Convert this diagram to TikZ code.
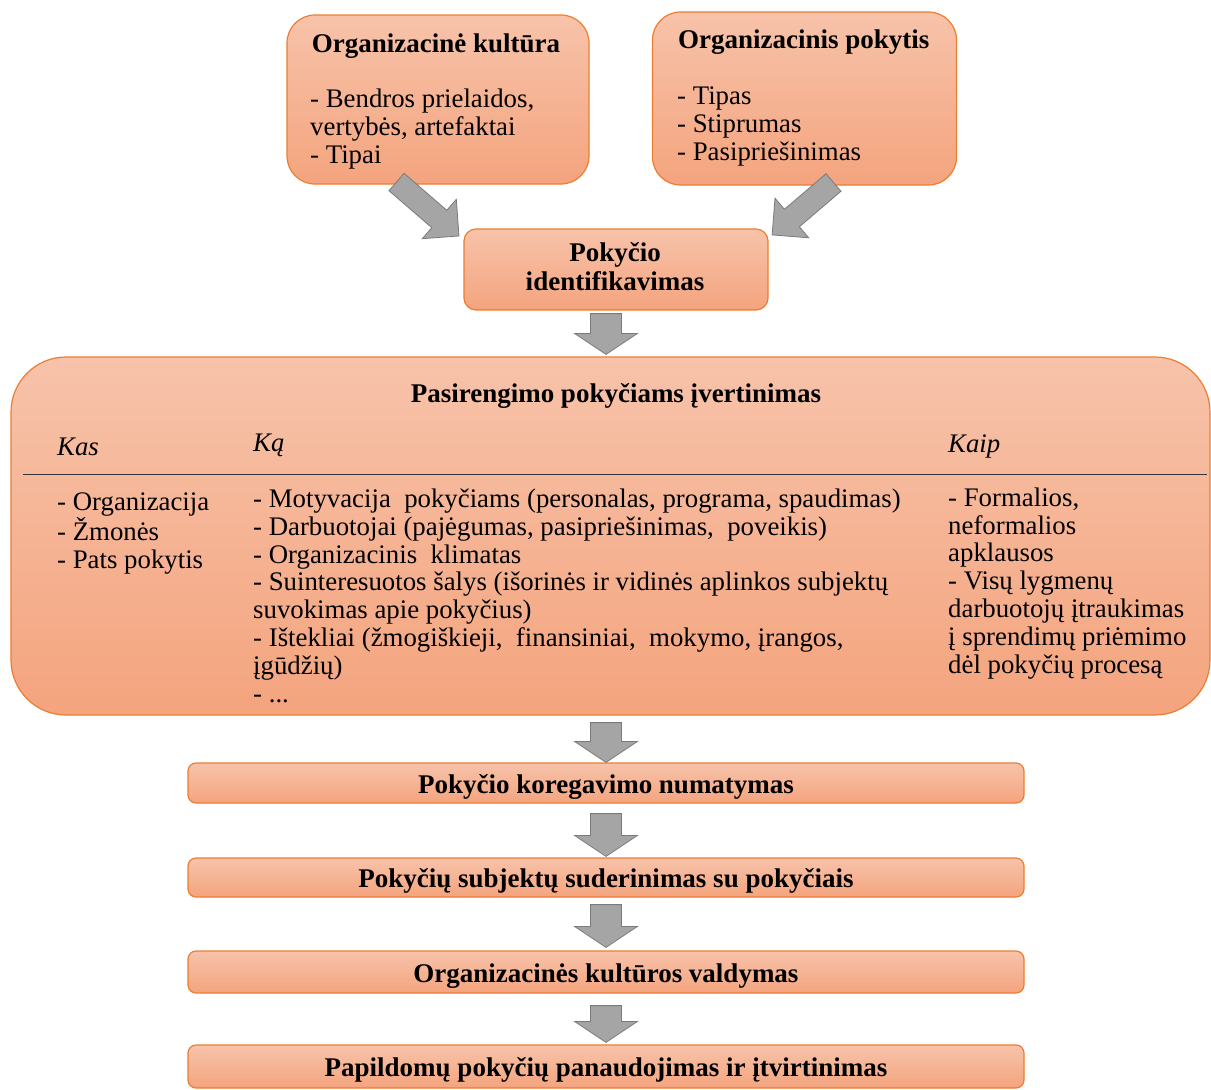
\documentclass[tikz,border=0pt]{standalone}
\usepackage{fontspec}
\setmainfont{Liberation Serif}
\usetikzlibrary{calc}

\definecolor{boxline}{HTML}{ED7D31}
\definecolor{boxtop}{HTML}{F7C3AA}
\definecolor{boxbot}{HTML}{F4A47E}
\definecolor{arrfill}{HTML}{A5A5A5}
\definecolor{arrline}{HTML}{7A7A7A}

\tikzset{
  box/.style={draw=boxline, line width=1.2pt, top color=boxtop, bottom color=boxbot,
              rounded corners=#1, inner sep=0pt},
  box/.default=8pt,
  txt/.style={inner sep=0pt, align=left, font=\fontsize{26.8}{27.8}\selectfont},
  head/.style={inner sep=0pt, align=left, font=\fontsize{27}{28.5}\selectfont\bfseries},
  rowbox/.style={box, head, minimum width=836pt, text height=24pt, text depth=4pt},
  blockarrow/.style={fill=arrfill, draw=arrline, line width=0.8pt, line join=miter},
}

% #1 from, #2 to, #3 half shaft, #4 half head, #5 head length
\newcommand{\fatarrow}[5]{%
  \path let \p1=($(#2)-(#1)$) in
    \pgfextra{\pgfmathparse{atan2(\y1,\x1)}\xdef\fatang{\pgfmathresult}%
              \pgfmathparse{veclen(\x1,\y1)}\xdef\fatlen{\pgfmathresult}};
  \draw[blockarrow, shift={(#1)}, rotate=\fatang]
    (0pt,#3) -- ({\fatlen pt-#5},#3) -- ({\fatlen pt-#5},#4) -- ({\fatlen pt},0pt)
    -- ({\fatlen pt-#5},-#4) -- ({\fatlen pt-#5},-#3) -- (0pt,-#3) -- cycle;
}

\begin{document}
\begin{tikzpicture}[x=1pt,y=-1pt]
  \useasboundingbox (0,0) rectangle (1211,1090);

  % top boxes (multi-line nodes: base = last line)
  \node[box=28pt, minimum width=302pt, minimum height=169pt] (kult) at (438,99.5) {};
  \node[head, anchor=base] (kulttit) at (436,52) {Organizacinė kultūra};
  \node[txt, anchor=base west] (kultlist) at (310,163)
    {- Bendros prielaidos,\\vertybės, artefaktai\\- Tipai};

  \node[box=28pt, minimum width=304pt, minimum height=173pt] (pokyt) at (804.5,98.5) {};
  \node[head, anchor=base west] (pokyttit) at (678,48) {Organizacinis pokytis};
  \node[txt, anchor=base west] (pokytlist) at (677,160)
    {- Tipas\\- Stiprumas\\- Pasipriešinimas};

  \node[box=12pt, minimum width=304pt, minimum height=81pt] (ident) at (616,269.5) {};
  \node[head, align=center, anchor=base] (identtxt) at (615,290) {Pokyčio\\identifikavimas};

  % readiness box
  \node[box=55pt, minimum width=1199pt, minimum height=358pt] (pas) at (610.5,536) {};
  \node[head, anchor=base] (pastit) at (616,402) {Pasirengimo pokyčiams įvertinimas};
  \node[txt, anchor=base west, font=\fontsize{26.8}{27.8}\selectfont\itshape] (kas) at (57,455) {Kas};
  \node[txt, anchor=base west, font=\fontsize{26.8}{27.8}\selectfont\itshape] (ka) at (253,451) {Ką};
  \node[txt, anchor=base west, font=\fontsize{26.8}{27.8}\selectfont\itshape] (kaip) at (948,452) {Kaip};
  \draw[line width=1pt, black!80] (23,474) -- (1207,474);

  \node[txt, anchor=base west] (kaslist) at (57,568)
    {- Organizacija\\- Žmonės\\- Pats pokytis};
  \node[txt, anchor=base west] (kalist) at (253,702)
    {- Motyvacija \ pokyčiams (personalas, programa, spaudimas)\\
     - Darbuotojai (pajėgumas, pasipriešinimas, \ poveikis)\\
     - Organizacinis \ klimatas\\
     - Suinteresuotos šalys (išorinės ir vidinės aplinkos subjektų\\
     suvokimas apie pokyčius)\\
     - Ištekliai (žmogiškieji, \ finansiniai, \ mokymo, įrangos,\\
     įgūdžių)\\
     - ...};
  \node[txt, anchor=base west] (kaiplist) at (948,673)
    {- Formalios,\\neformalios\\apklausos\\- Visų lygmenų\\darbuotojų įtraukimas\\
     į sprendimų priėmimo\\dėl pokyčių procesą};

  % step boxes
  \node[rowbox, minimum height=40pt] (korr) at (606,783) {Pokyčio koregavimo numatymas};
  \node[rowbox, minimum height=39pt] (sud) at (606,877.5) {Pokyčių subjektų suderinimas su pokyčiais};
  \node[rowbox, minimum height=42pt] (vald) at (606,972) {Organizacinės kultūros valdymas};
  \node[rowbox, minimum height=43pt] (papild) at (606,1066.5) {Papildomų pokyčių panaudojimas ir įtvirtinimas};

  % arrows
  \coordinate (kult-out) at (396.5,182);
  \coordinate (ident-inl) at (459,236);
  \coordinate (pokyt-out) at (833.5,182.5);
  \coordinate (ident-inr) at (772,235);
  \fatarrow{kult-out}{ident-inl}{11.5pt}{26pt}{26pt}
  \fatarrow{pokyt-out}{ident-inr}{11.5pt}{26pt}{26pt}

  \foreach \a/\b/\s/\e in {ident/pas/3/2, pas/korr/7/0, korr/sud/10/1, sud/vald/7/3, vald/papild/12/2} {
    \coordinate (\a-out) at ($(\a.south -| korr.north)+(0,\s)$);
    \coordinate (\b-in) at ($(\b.north -| korr.north)+(0,-\e)$);
    \fatarrow{\a-out}{\b-in}{15.5pt}{31.5pt}{21pt}
  }
\end{tikzpicture}
\end{document}
